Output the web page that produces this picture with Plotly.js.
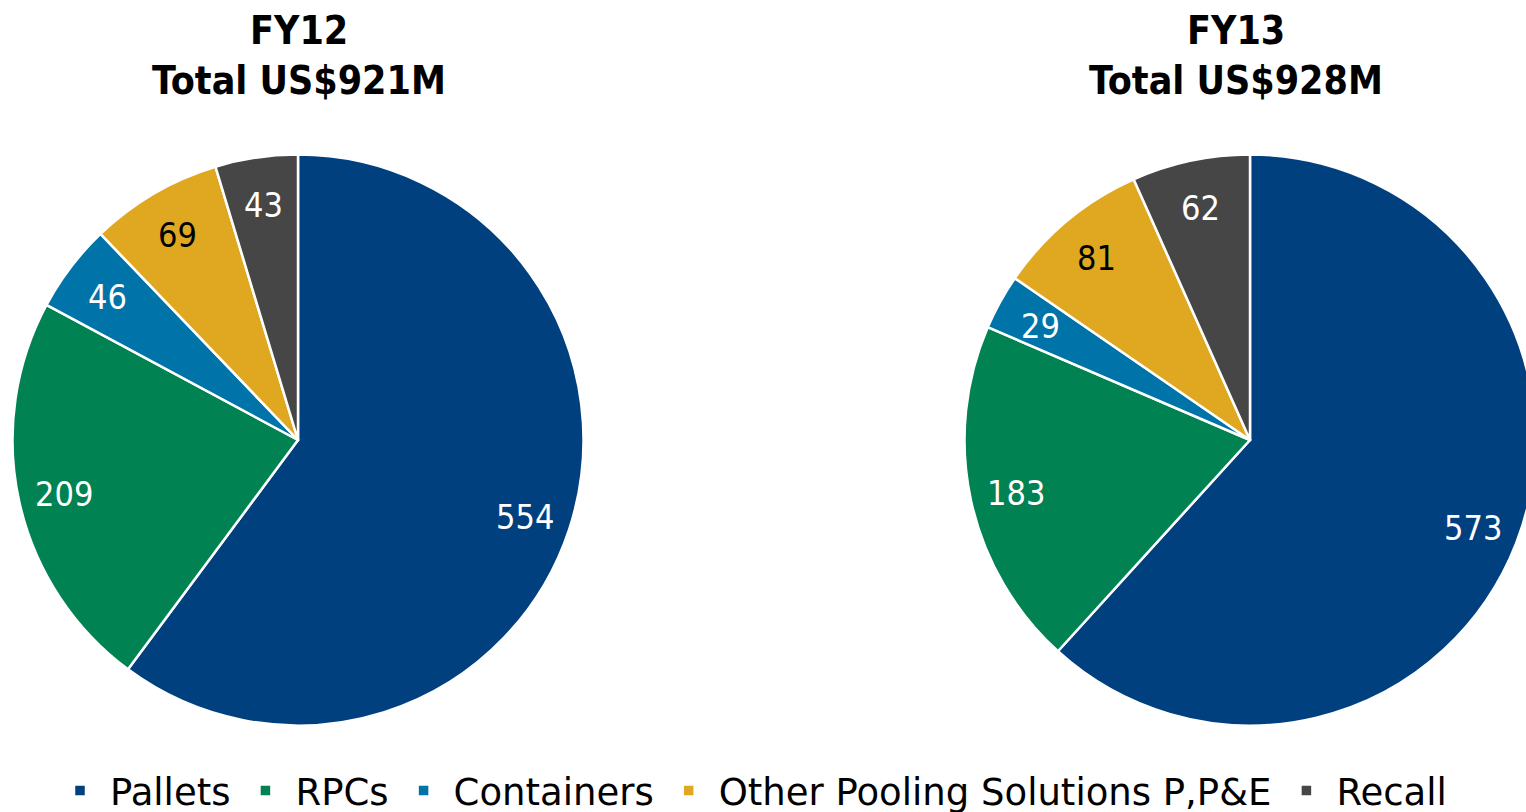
<!DOCTYPE html>
<html><head><meta charset="utf-8">
<script src="https://cdn.plot.ly/plotly-3.0.1.min.js"></script>
<style>html,body{margin:0;padding:0;overflow:hidden;background:#fff;}#chart{width:1600px;height:840px;}</style>
</head><body><div id="chart"></div>
<script>
const categories = ["Pallets", "RPCs", "Containers", "Other Pooling Solutions P,P&E", "Recall"];
const fy12Values = [554, 209, 46, 69, 43];
const fy13Values = [573, 183, 29, 81, 62];
const colors = ["#00407F", "#008252", "#0073A8", "#E0A820", "#464646"];
const textColors = ["#ffffff", "#ffffff", "#ffffff", "#000000", "#ffffff"];
const titleLines1 = ["FY12", "FY13"];
const titleLines2 = ["Total US$921M", "Total US$928M"];

const W = 1600, H = 840;
const FONT = "DejaVu Sans Condensed, DejaVu Sans, sans-serif";
const LFONT = "DejaVu Sans, sans-serif";
const R = 285, CY = 440;
const centersX = [298, 1250];
const DOM = 571;
function pie(values, cx, name) {
  const cyDom = CY;
  return {
    type: "pie", name: name, labels: categories, values: values, sort: false,
    direction: "clockwise", rotation: 0,
    marker: {colors: colors, line: {color: "#ffffff", width: 2.5}},
    textinfo: "none",
    hoverinfo: "label+value",
    domain: {x: [(cx - DOM / 2) / W, (cx + DOM / 2) / W], y: [(H - cyDom - DOM / 2) / H, (H - cyDom + DOM / 2) / H]}
  };
}
// value labels placed along each slice's mid-angle (derived from the data)
function labelAnnotations(values, cx) {
  const total = values.reduce((a, b) => a + b, 0);
  let cum = 0;
  return values.map((v, i) => {
    const mid = (cum + v / 2) / total * 2 * Math.PI;
    cum += v;
    const rr = R * 0.84;
    const px = cx + rr * Math.sin(mid), py = CY + 2 - rr * Math.cos(mid);
    return {text: String(v), x: px / W, y: 1 - py / H, xref: "paper", yref: "paper",
      xanchor: "center", yanchor: "middle", showarrow: false,
      font: {family: FONT, size: 34, color: textColors[i]}};
  });
}
const data = [pie(fy12Values, centersX[0], "FY12"), pie(fy13Values, centersX[1], "FY13")];
const titleX = [299, 1236];
const titleAnn = [];
for (let k = 0; k < 2; k++) {
  titleAnn.push({text: "<b>" + titleLines1[k] + "</b>", x: titleX[k] / W, y: 1 - 31 / H, xref: "paper", yref: "paper",
    xanchor: "center", yanchor: "middle", showarrow: false, font: {family: FONT, size: 39, color: "#000"}});
  titleAnn.push({text: "<b>" + titleLines2[k] + "</b>", x: titleX[k] / W, y: 1 - 80 / H, xref: "paper", yref: "paper",
    xanchor: "center", yanchor: "middle", showarrow: false, font: {family: FONT, size: 39, color: "#000"}});
}
const layout = {
  width: W, height: H, margin: {l: 0, r: 0, t: 0, b: 0},
  paper_bgcolor: "#fff", showlegend: true,
  legend: {orientation: "h", x: 50 / W, xanchor: "left", y: 1 - 791 / H, yanchor: "middle",
    itemwidth: 50,
    font: {family: LFONT, size: 37, color: "#000"}, traceorder: "normal"},
  annotations: titleAnn.concat(labelAnnotations(fy12Values, centersX[0]), labelAnnotations(fy13Values, centersX[1]))
};
Plotly.newPlot("chart", data, layout, {displayModeBar: false});
</script></body></html>
